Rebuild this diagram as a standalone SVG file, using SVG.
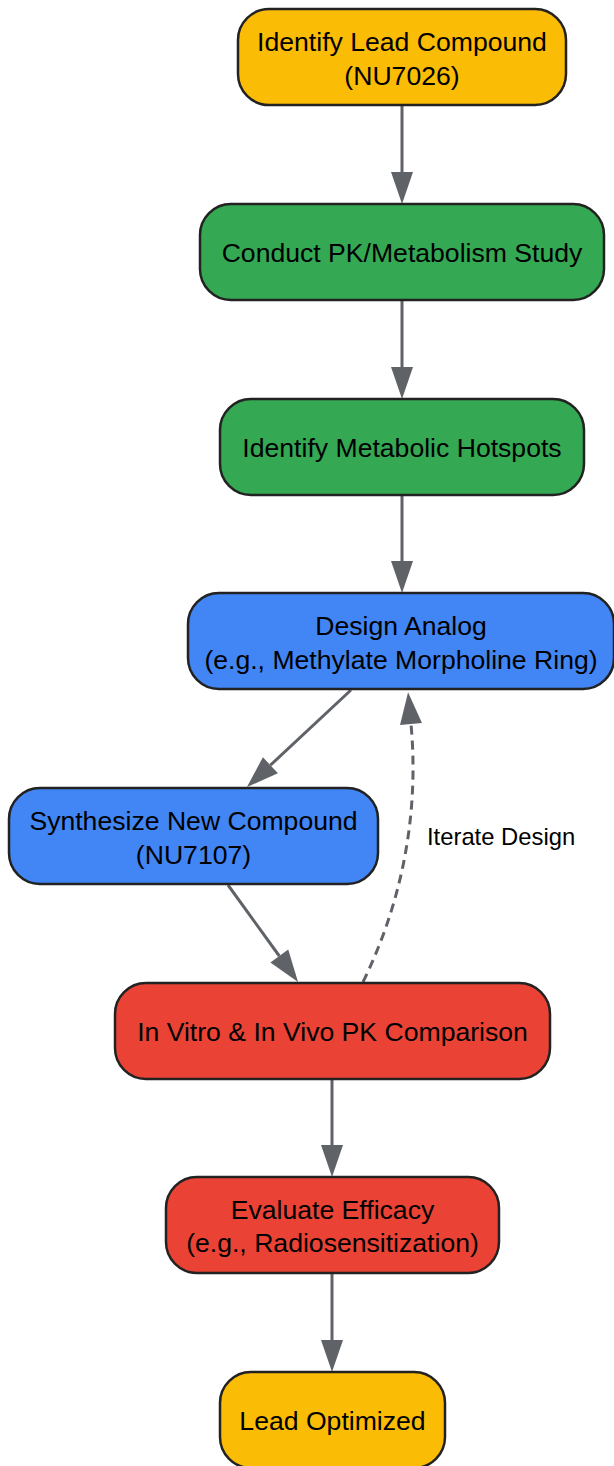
<svg xmlns="http://www.w3.org/2000/svg" width="614" height="1466" viewBox="0 0 614 1466">
<style>
.n rect{stroke:#222;stroke-width:2.5}
.n text{font-family:"Liberation Sans",Arial,sans-serif;font-size:26.6px;fill:#000;text-anchor:middle}
.y{fill:#FBBC05}.g{fill:#34A853}.b{fill:#4285F4}.r{fill:#EA4335}
.e{fill:none;stroke:#5F6368;stroke-width:3}
.d{stroke-dasharray:9 6}
.lbl{font-family:"Liberation Sans",Arial,sans-serif;font-size:23.8px;fill:#000}
</style>
<defs>
<marker id="ah" markerUnits="userSpaceOnUse" markerWidth="32" markerHeight="22" refX="0" refY="11" orient="auto" overflow="visible">
<path d="M0,0 L32,11 L0,22 z" fill="#5F6368"/>
</marker>
</defs>
<rect width="614" height="1466" fill="#fff"/>
<g id="connectors">
<path class="e" d="M402,105 L402,172" marker-end="url(#ah)"/>
<path class="e" d="M402,300 L402,367" marker-end="url(#ah)"/>
<path class="e" d="M402,495 L402,561" marker-end="url(#ah)"/>
<path class="e" d="M351,690 L270.4,765.2" marker-end="url(#ah)"/>
<path class="e" d="M228,885 L279.3,956" marker-end="url(#ah)"/>
<path class="e d" d="M363,982 C408,890 418,800 411,724" marker-end="url(#ah)"/>
<path class="e" d="M332,1079 L332,1145" marker-end="url(#ah)"/>
<path class="e" d="M332,1273 L332,1340" marker-end="url(#ah)"/>
<text class="lbl" x="427" y="845">Iterate Design</text>
</g>
<g id="n1" class="n"><rect class="y" x="238" y="9" width="328" height="96" rx="31"/><text x="402" y="51">Identify Lead Compound</text><text x="402" y="85">(NU7026)</text></g>
<g id="n2" class="n"><rect class="g" x="200" y="204" width="404" height="96" rx="31"/><text x="402" y="261.5">Conduct PK/Metabolism Study</text></g>
<g id="n3" class="n"><rect class="g" x="220" y="399" width="364" height="96" rx="31"/><text x="402" y="456.5">Identify Metabolic Hotspots</text></g>
<g id="n4" class="n"><rect class="b" x="188" y="593" width="426" height="96" rx="31"/><text x="401" y="635">Design Analog</text><text x="401" y="669">(e.g., Methylate Morpholine Ring)</text></g>
<g id="n5" class="n"><rect class="b" x="9" y="788" width="369" height="96" rx="31"/><text x="193.5" y="830">Synthesize New Compound</text><text x="193.5" y="864">(NU7107)</text></g>
<g id="n6" class="n"><rect class="r" x="115" y="983" width="435" height="96" rx="31"/><text x="332.5" y="1040.5">In Vitro &amp; In Vivo PK Comparison</text></g>
<g id="n7" class="n"><rect class="r" x="166" y="1177" width="333" height="96" rx="31"/><text x="332.5" y="1219">Evaluate Efficacy</text><text x="332.5" y="1252">(e.g., Radiosensitization)</text></g>
<g id="n8" class="n"><rect class="y" x="220" y="1372" width="225" height="96" rx="31"/><text x="332.5" y="1430">Lead Optimized</text></g>
</svg>
